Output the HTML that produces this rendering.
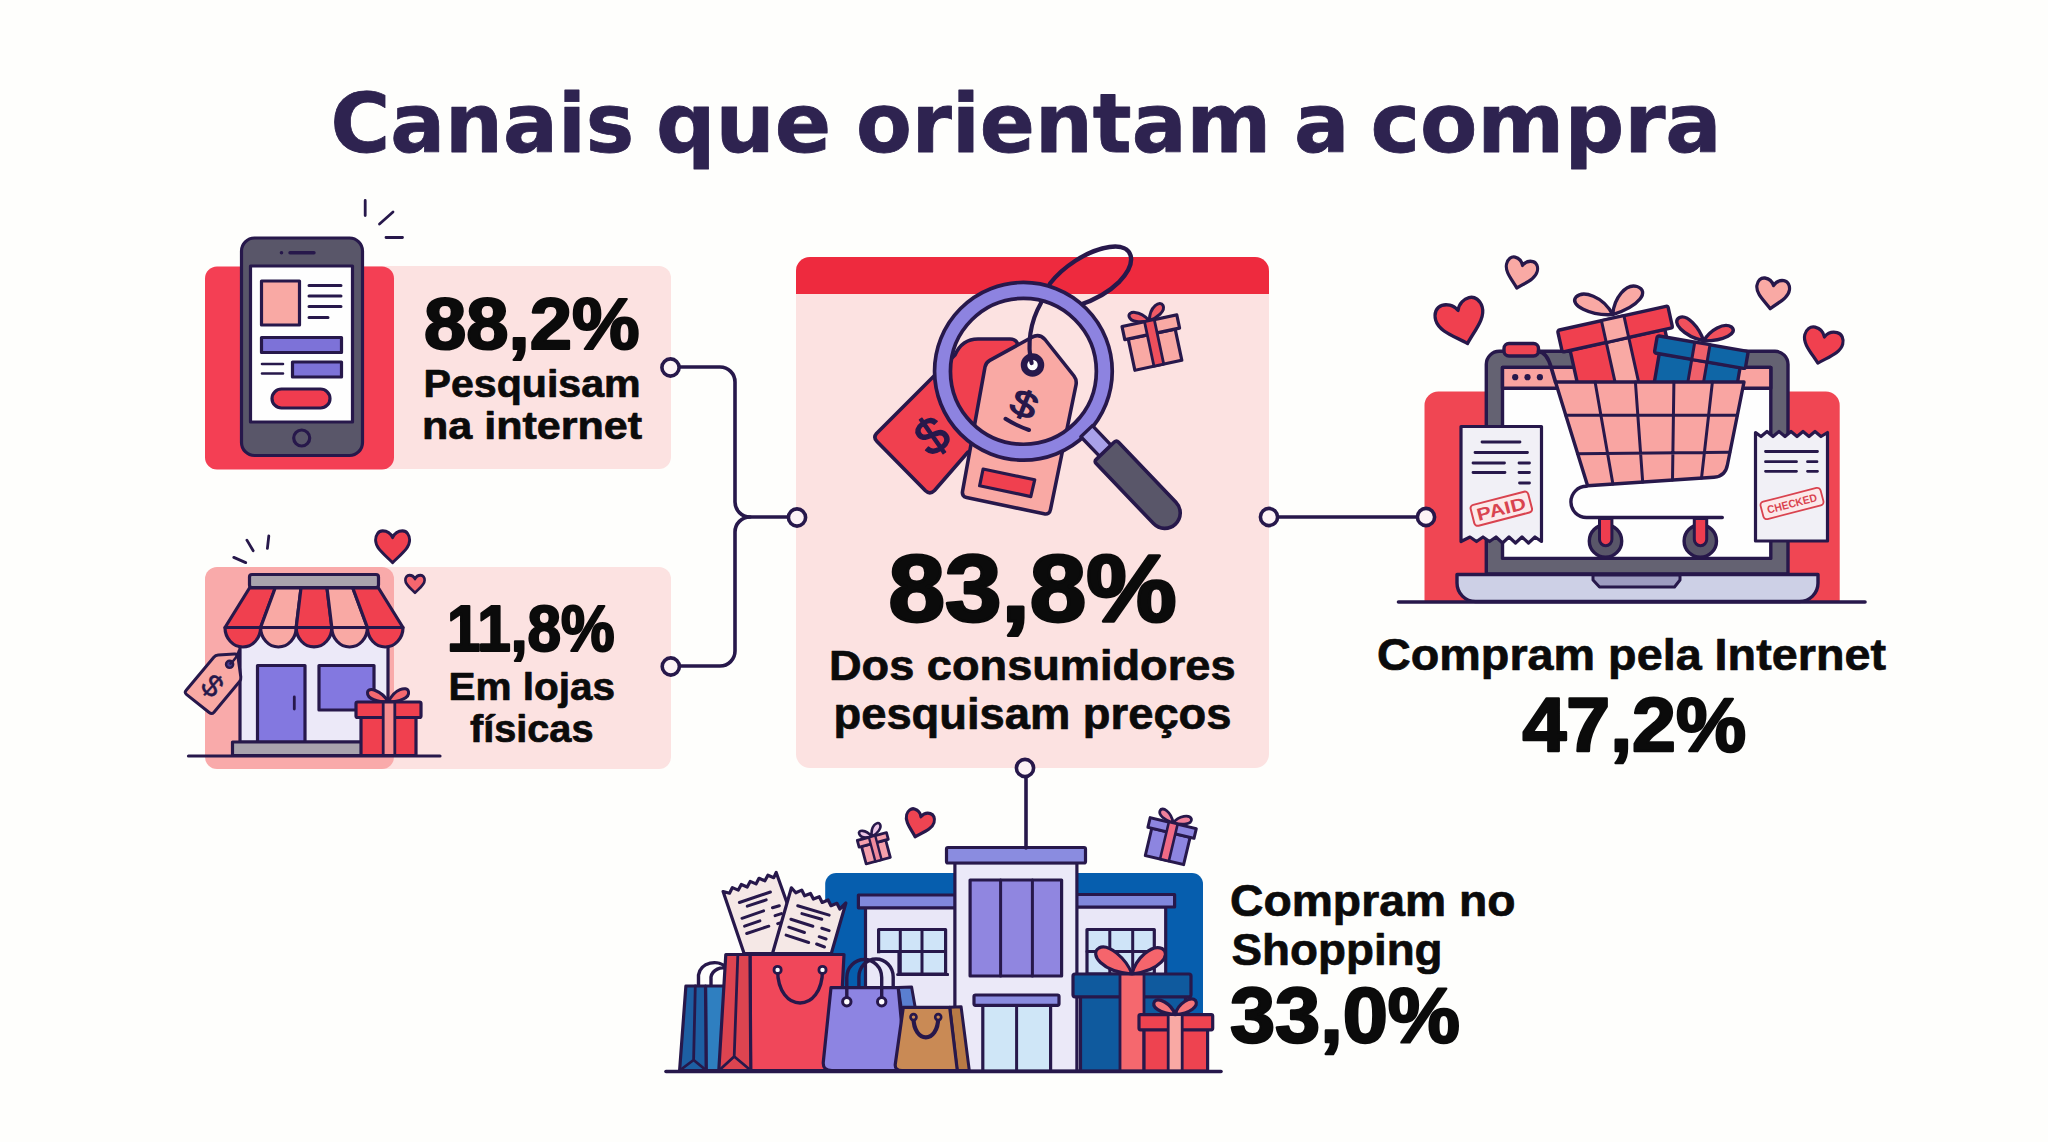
<!DOCTYPE html>
<html lang="pt-BR">
<head>
<meta charset="utf-8">
<title>Canais que orientam a compra</title>
<style>
html,body{margin:0;padding:0;background:#fefefc;}
body{width:2048px;height:1142px;overflow:hidden;position:relative;font-family:"Liberation Sans","DejaVu Sans",sans-serif;}
svg{position:absolute;left:0;top:0;display:block}
text{font-family:"Liberation Sans","DejaVu Sans",sans-serif;font-weight:700;stroke-linejoin:round}
.tt{font-family:"DejaVu Sans","Liberation Sans",sans-serif;fill:#2e2350;stroke:#2e2350;stroke-width:.8px}
.tk{fill:#0b0b0b;stroke:#0b0b0b}
.k{stroke:#27184b;stroke-linecap:round;stroke-linejoin:round}
</style>
</head>
<body>
<svg width="2048" height="1142" viewBox="0 0 2048 1142">
<rect width="2048" height="1142" fill="#fefefc"/>
<!-- CARDS -->
<g id="cards">
<rect x="300" y="266" width="371" height="203" rx="12" fill="#fce2e1"/>
<rect x="205" y="266.5" width="189" height="203" rx="12" fill="#f43f54"/>
<rect x="300" y="567" width="371" height="202" rx="12" fill="#fce2e1"/>
<rect x="205" y="567" width="189" height="202" rx="12" fill="#f9aaaa"/>
<rect x="796" y="257" width="473" height="511" rx="14" fill="#fce2e1"/>
<path d="M796 294V271a14 14 0 0 1 14-14H1255a14 14 0 0 1 14 14V294Z" fill="#ee2a3e"/>
</g>
<!-- PHONE -->
<g id="phone" class="k" stroke-width="3.2" fill="none">
<rect x="241.5" y="238" width="121" height="217.5" rx="13" fill="#595669"/>
<rect x="250.5" y="266" width="102" height="156" fill="#fefefe"/>
<path d="M290 252.7H314" stroke-width="3.4"/>
<circle cx="281.5" cy="252.7" r="1.2" fill="#27184b" stroke-width="1.2"/>
<rect x="261.5" y="281" width="38" height="44" fill="#f9a9a4"/>
<path d="M309 285.5H341M309 296H341M309 306.5H341M309 317.5H328" stroke-width="3"/>
<rect x="261.5" y="337.5" width="80" height="15" fill="#7d72d8"/>
<path d="M262 364H283M262 373.5H283" stroke-width="2.6"/>
<rect x="292.5" y="362" width="49" height="15" fill="#7d72d8"/>
<rect x="272" y="389" width="58" height="19" rx="9.5" fill="#f03c4f"/>
<circle cx="301.7" cy="438" r="8"/>
<path d="M365.2 200.5V215.5M379.5 224 393 212M386 237.5H402.5" stroke-width="2.8"/>
</g>
<!-- STORE -->
<g id="store" class="k" stroke-width="3.2" fill="none">
<!-- body -->
<rect x="240" y="620" width="148" height="122" fill="#ece9f8"/>
<rect x="257.5" y="665.5" width="47.5" height="76.5" fill="#8378e0"/>
<path d="M294.3 697V709" stroke-width="2.8"/>
<rect x="319" y="665.5" width="55" height="44.5" fill="#8378e0"/>
<rect x="232.5" y="742" width="140" height="13.5" fill="#a9a3ad"/>
<!-- roof bar -->
<rect x="249.5" y="574.5" width="129" height="13" rx="2.5" fill="#a9a3ad"/>
<!-- awning -->
<path d="M249.5 588H275.2L260.6 627.5H225Z" fill="#f0404f"/>
<path d="M275.2 588H301L296.2 627.5H260.6Z" fill="#f9a9a4"/>
<path d="M301 588H327L331.8 627.5H296.2Z" fill="#f0404f"/>
<path d="M327 588H352.8L367.4 627.5H331.8Z" fill="#f9a9a4"/>
<path d="M352.8 588H378.5L403 627.5H367.4Z" fill="#f0404f"/>
<path d="M225 627.5H260.6A17.8 19.5 0 0 1 225 627.5Z" fill="#f0404f"/>
<path d="M260.6 627.5H296.2A17.8 19.5 0 0 1 260.6 627.5Z" fill="#f9a9a4"/>
<path d="M296.2 627.5H331.8A17.8 19.5 0 0 1 296.2 627.5Z" fill="#f0404f"/>
<path d="M331.8 627.5H367.4A17.8 19.5 0 0 1 331.8 627.5Z" fill="#f9a9a4"/>
<path d="M367.4 627.5H403A17.8 19.5 0 0 1 367.4 627.5Z" fill="#f0404f"/>
<!-- tag -->
<path d="M186 690.5 213.8 657.2Q215.5 655.1 218.2 654.9L234.5 654.1Q237.6 653.9 238 657L240.8 677Q241.2 679.7 239.4 681.8L214 712.2Q211.8 714.6 209.2 712.5L186.4 694.3Q184.2 692.5 186 690.5Z" fill="#f9a9a4" stroke-width="3"/>
<circle cx="229.6" cy="664.3" r="3.6" fill="#4a3d8f" stroke-width="2.4"/>
<path d="M239 650.5Q237 658 230.5 663.5" stroke-width="2.6"/>
<text x="211.8" y="686.4" font-size="31" text-anchor="middle" transform="rotate(42 211.8 686.4)" dy="9.5" fill="#27184b" stroke="#27184b" stroke-width=".4" style="font-weight:400">$</text>
<!-- gift -->
<path d="M388.5 702C381 690 368 686.5 367.5 692.5 367 699 378 702 388.5 702ZM388.5 702C394 689 407 685.5 408.5 691.5 410 698 399 702 388.5 702Z" fill="#f5696f" stroke-width="3"/>
<rect x="361" y="717" width="55" height="38.5" fill="#f0404f"/>
<rect x="356" y="702" width="65" height="15.5" rx="1.5" fill="#f0404f"/>
<rect x="383.2" y="702" width="11.6" height="53.5" fill="#f98e90" stroke-width="2.8"/>
<!-- ground -->
<path d="M188.5 756H440" stroke-width="3.2"/>
<!-- sparks -->
<path d="M233.8 557.4 245.7 562.6M246.9 540.1 253.2 550.7M268.8 536 267.4 548.4" stroke-width="2.8"/>
<!-- hearts -->
<path d="M0 4C-4-4-12-7-18-7-26-7-31 0-31 8-31 22-14 32 0 45 14 32 31 22 31 8 31 0 26-7 18-7 12-7 4-4 0 4Z" transform="translate(392.6 535.2) scale(.55 .61)" fill="#f0404f" stroke-width="5.2"/>
<path d="M0 4C-4-4-12-7-18-7-26-7-31 0-31 8-31 22-14 32 0 45 14 32 31 22 31 8 31 0 26-7 18-7 12-7 4-4 0 4Z" transform="translate(415 577.6) scale(.31 .335)" fill="#f5666e" stroke-width="8.5"/>
</g>
<!-- MAGNIFIER + TAGS -->
<g id="magnifier" class="k" stroke-width="3.6" fill="none">
<!-- red tag -->
<path d="M876.5 433.5 955 355Q962 339 978 339H1010Q1017 339 1018 346L1030 420 968 452 934.5 490.5Q930 495 925.5 490.8L877 441.5Q873 437.5 876.5 433.5Z" fill="#f0404f"/>
<text x="933" y="437" font-size="51" text-anchor="middle" transform="rotate(-35 933 437)" dy="16" fill="#27184b" stroke="#27184b" stroke-width="1.4" style="font-weight:400">$</text>
<!-- pink tag -->
<path d="M962.6 491 985 367Q985.8 362.5 989.8 360.3L1031.5 337.5Q1039 333 1045 339.5L1074 376Q1077 380 1076 385L1050.5 509.5Q1049.5 515 1044 513.8L966.5 497.5Q961.5 496.5 962.6 491Z" fill="#f9a9a4"/>
<path d="M983.1 469 1034.7 479.8 1030.8 496.6 979.6 485.8Z" fill="#f0404f" stroke-width="3.2"/>
<text x="0" y="0" font-size="36" text-anchor="middle" transform="translate(1023.8 405) rotate(22) scale(1.3 1)" dy="11.5" fill="#27184b" stroke="#27184b" stroke-width="1.2" style="font-weight:400">$</text>
<path d="M1005.5 418.8Q1016 425.5 1029 430" stroke-width="4"/>
<circle cx="1032.5" cy="365" r="8.5" fill="#fefefe" stroke-width="6.5"/>
<!-- string -->
<path d="M1031.6 363C1027 345 1030 322 1041 303" stroke-width="4.2"/>
<path d="M1050 283.5C1062 268 1086 250.500 1109.500 247 1134 243.500 1138 262 1119.500 281.600 1107 294 1092 301 1078 305.500" stroke-width="4.4"/>
<!-- ring -->
<circle cx="1023.4" cy="371.3" r="80.9" stroke-width="19.6"/>
<circle cx="1023.4" cy="371.3" r="80.9" stroke="#8d83e0" stroke-width="12.2"/>
<!-- neck + handle -->
<g transform="translate(1105.3 450.7) rotate(46.3)">
<rect x="-27" y="-8" width="30" height="16" fill="#a9a1ea" stroke-width="3.4"/>
<path d="M3 -15.5H86A15.5 15.5 0 0 1 86 15.5H3Q0 15.5 0 12.5V-12.5Q0 -15.5 3 -15.5Z" fill="#595669"/>
</g>
<!-- small gift -->
<g transform="translate(1122 326.5) rotate(-12)">
<path d="M28 0C20.5-13 8.5-14 9-8 9.500-2 19.500 0 28 0ZM28 0C31-14 43-18 44.500-12 46-6 36-1 28 0Z" fill="#ee5a66" stroke-width="3"/>
<rect x="3.5" y="13.5" width="48" height="32" fill="#f9a9a4" stroke-width="3.2"/>
<rect x="0" y="0" width="56" height="13.5" fill="#f9a9a4" stroke-width="3.2"/>
<rect x="23" y="0" width="10" height="45.5" fill="#ee4f5c" stroke-width="2.8"/>
</g>
</g>
<!-- LAPTOP + CART -->
<g id="laptop" class="k" stroke-width="3.4" fill="none">
<path d="M1424.5 601.5V405.500a14 14 0 0 1 14-14H1825.700a14 14 0 0 1 14 14V601.500Z" fill="#f04653" stroke="none"/>
<!-- bezel -->
<path d="M1486.3 574V364.300a13 13 0 0 1 13-13H1775a13 13 0 0 1 13 13V574Z" fill="#646272"/>
<rect x="1502.5" y="367.4" width="268.3" height="191" fill="#fefefe"/>
<rect x="1502.5" y="367.4" width="268.3" height="20.8" fill="#f9a3a0"/>
<g fill="#27184b" stroke="none"><circle cx="1515.2" cy="377.2" r="3.1"/><circle cx="1527.5" cy="377.2" r="3.1"/><circle cx="1539.9" cy="377.2" r="3.1"/></g>
<!-- base -->
<path d="M1457 574.5H1818V583a18.500 18.500 0 0 1-18.500 18.500H1475.500A18.500 18.500 0 0 1 1457 583Z" fill="#cdd0e6"/>
<path d="M1593 575H1680V580L1674.500 587H1599.500L1593 580Z" fill="#9d9cc0" stroke-width="3"/>
<path d="M1398.500 602H1865" stroke-width="3.6"/>
<!-- left receipt -->
<path d="M1461 426.500H1541.500V541.500L1535 537 1528.500 543 1522 537 1515.500 543 1509 537 1502.500 543 1496 537 1489.500 541.500 1483 537 1476.500 541.500 1470 537 1461 541.500Z" fill="#f1f0f6" stroke-width="3.2"/>
<path d="M1482 442H1520M1475 452.500H1527.500M1473 463H1504.500M1519 463H1529.500M1473 472.500H1505M1519 472.500H1529.500M1519.500 483H1529.500" stroke-width="2.8"/>
<g transform="rotate(-14.5 1501 508.500)">
<rect x="1471.500" y="498" width="59.500" height="21.500" rx="3.500" fill="#fbe9ea" stroke="#d9434f" stroke-width="2"/>
<text x="1501.200" y="515" font-size="17.500" text-anchor="middle" textLength="50" lengthAdjust="spacingAndGlyphs" fill="#d9434f" stroke="none">PAID</text>
</g>
<!-- right receipt -->
<path d="M1755.500 541V432.500L1761 436.500 1767 431.500 1773 436.500 1779 431.500 1785 436.500 1791 431.500 1797 436.500 1803 431.500 1809 436.500 1815 431.500 1821 436.500 1827.500 432.500V541Z" fill="#f1f0f6" stroke-width="3.200"/>
<path d="M1765.500 451.500H1817.500M1765.500 461.700H1796.500M1807.500 461.700H1817M1765.500 471.300H1796.500M1807.500 471.300H1817.500" stroke-width="2.800"/>
<g transform="rotate(-14.500 1792 503.500)">
<rect x="1761" y="494.500" width="62" height="18" rx="3.500" fill="#fbe9ea" stroke="#d9434f" stroke-width="1.800"/>
<text x="1792" y="507.500" font-size="11" text-anchor="middle" textLength="51" lengthAdjust="spacingAndGlyphs" fill="#d9434f" stroke="none">CHECKED</text>
</g>
<!-- red handle -->
<rect x="1504" y="343.500" width="34.500" height="12.500" rx="5" fill="#ee4552"/>
</g>
<!-- CART -->
<g id="cart" class="k" stroke-width="3.4" fill="none">
<!-- red gift -->
<g transform="translate(1557.5 330.4) rotate(-12.5)">
<rect x="8" y="22" width="97" height="75" fill="#f0404f"/>
<rect x="45" y="22" width="23" height="75" fill="#f9a9a4" stroke-width="3"/>
<rect x="0" y="0" width="113" height="22.3" rx="2" fill="#f0404f"/>
<rect x="45" y="0" width="23" height="22.3" fill="#f9a9a4" stroke-width="3"/>
</g>
<path d="M1612.7 314.6C1603 296 1583 290 1576 297 1569 305 1590 316 1612.700 314.600ZM1612.700 314.600C1614 298 1626 283 1637 286.500 1650 291 1640 306 1612.700 314.600Z" fill="#f9a9a4"/>
<!-- blue gift -->
<g transform="translate(1657.3 335.7) rotate(9.8)">
<rect x="5" y="17" width="82" height="60" fill="#0f66a6"/>
<rect x="38" y="17" width="15.500" height="60" fill="#f0606a" stroke-width="3"/>
<rect x="0" y="0" width="92.300" height="17.500" rx="2" fill="#0f66a6"/>
<rect x="38" y="0" width="15.500" height="17.500" fill="#f0606a" stroke-width="3"/>
</g>
<path d="M1703.700 340.900C1699 327 1687 314 1679.500 317.500 1671 322 1683 336 1703.700 340.900ZM1703.700 340.900C1710 330 1724 322 1731.500 327 1738.500 333 1724 341 1703.700 340.900Z" fill="#f0505c"/>
<!-- basket -->
<path d="M1555.500 382H1744L1727.500 464.500Q1725.500 476.400 1714 477.200L1587.600 485.800Z" fill="#f9a5a2"/>
<path d="M1595.100 382 1612.900 484.100M1635.400 382 1642.700 482.100M1673.900 382 1672.500 480M1712.400 382 1701.500 478.100M1565.800 415.300H1737.300M1577.400 453.800 1729.800 452.300" stroke-width="3"/>
<path d="M1538.500 351.300C1546 352 1549 360 1551 367L1555.500 382" stroke-width="3.800"/>
<!-- lower frame -->
<path d="M1722.300 517.500H1586.500A15.600 15.600 0 0 1 1586.500 486.300"/>
<!-- wheels -->
<circle cx="1605.500" cy="540.900" r="16.200" fill="#595669"/>
<circle cx="1700.300" cy="540.900" r="16.200" fill="#595669"/>
<path d="M1599.500 518.500H1611.900V539.500a6.200 6.200 0 0 1-12.400 0Z" fill="#ee3d4f" stroke-width="3"/>
<path d="M1694.300 518.500H1706.700V539.500a6.200 6.200 0 0 1-12.400 0Z" fill="#ee3d4f" stroke-width="3"/>
<!-- hearts -->
<path d="M0 4C-4-4-12-7-18-7-26-7-31 0-31 8-31 22-14 32 0 45 14 32 31 22 31 8 31 0 26-7 18-7 12-7 4-4 0 4Z" transform="translate(1461.5 322.500) rotate(-16) scale(.78 .84) translate(0 -19)" fill="#f0404f" stroke-width="4.200"/>
<path d="M0 4C-4-4-12-7-18-7-26-7-31 0-31 8-31 22-14 32 0 45 14 32 31 22 31 8 31 0 26-7 18-7 12-7 4-4 0 4Z" transform="translate(1520.400 273.700) rotate(14) scale(.51 .57) translate(0 -19)" fill="#f9a9a4" stroke-width="6"/>
<path d="M0 4C-4-4-12-7-18-7-26-7-31 0-31 8-31 22-14 32 0 45 14 32 31 22 31 8 31 0 26-7 18-7 12-7 4-4 0 4Z" transform="translate(1772.300 294) rotate(8) scale(.53 .57) translate(0 -19)" fill="#f9a9a4" stroke-width="6"/>
<path d="M0 4C-4-4-12-7-18-7-26-7-31 0-31 8-31 22-14 32 0 45 14 32 31 22 31 8 31 0 26-7 18-7 12-7 4-4 0 4Z" transform="translate(1822 346.500) rotate(14) scale(.63 .66) translate(0 -19)" fill="#f0404f" stroke-width="5"/>
</g>
<!-- MALL -->
<g id="mall" class="k" stroke-width="3.2" fill="none">
<path d="M825.2 1071V884a11 11 0 0 1 11-11H1192a11 11 0 0 1 11 11V1071Z" fill="#065eae" stroke="none"/>
<!-- wings -->
<rect x="865.5" y="907.500" width="90" height="163.500" fill="#e9e7f7"/>
<rect x="858.400" y="895" width="97" height="12.800" fill="#8088dc"/>
<rect x="1076" y="907" width="89.700" height="164" fill="#e9e7f7"/>
<rect x="1076" y="894.500" width="98.600" height="12.500" fill="#8088dc"/>
<rect x="878.600" y="929.500" width="67" height="44.500" fill="#cfe4f8"/>
<path d="M900.300 929.500V974M922 929.500V974M878.600 951.600H945.600M876.500 974.500H947.500" stroke-width="3"/>
<rect x="1087" y="929.500" width="67.300" height="44.500" fill="#cfe4f8"/>
<path d="M1109.800 929.500V974M1132.700 929.500V974M1087 951.600H1154.300" stroke-width="3"/>
<!-- tower -->
<rect x="954.900" y="862.700" width="122" height="208.300" fill="#ebe9f8"/>
<rect x="946.500" y="847.500" width="139" height="15.500" rx="1.500" fill="#8a8ce0"/>
<rect x="970.100" y="880" width="91.500" height="96" fill="#9086e0"/>
<path d="M1000.600 880V976M1032.400 880V976" stroke-width="3"/>
<rect x="982.800" y="1005" width="67.800" height="66" fill="#cfe6f7"/>
<path d="M1016.600 1005V1071" stroke-width="3"/>
<rect x="974" y="995" width="85" height="10.300" rx="1.500" fill="#8a8ce0"/>
<!-- big blue gift -->
<rect x="1080.500" y="996.500" width="105" height="74.500" fill="#0f5a9e"/>
<rect x="1073" y="974" width="118" height="22.800" rx="2" fill="#0f5a9e"/>
<rect x="1120" y="974" width="24" height="97" fill="#f5686e" stroke-width="2.800"/>
<path d="M1132 974C1126 958 1108 943 1099 948 1089 954 1102 972 1132 974ZM1132 974C1136 958 1152 944 1162 948.500 1172 954 1160 971 1132 974Z" fill="#f5656c"/>
<!-- small red gift -->
<rect x="1144" y="1029.500" width="63.600" height="41.500" fill="#ee4350"/>
<rect x="1139" y="1014.600" width="73.700" height="15.200" rx="1.500" fill="#ee4350"/>
<rect x="1168.200" y="1014.600" width="14" height="56.400" fill="#f9a9a4" stroke-width="2.800"/>
<path d="M1175.200 1014.600C1171 1003 1158 997 1154.500 1001.500 1151 1007 1160 1013.500 1175.200 1014.600ZM1175.200 1014.600C1178 1003 1191 996 1195.500 1000.500 1199.500 1006 1190 1013.500 1175.200 1014.600Z" fill="#f5767a"/>
</g>
<!-- BAGS -->
<g id="bags" class="k" stroke-width="3.2" fill="none">
<rect x="875" y="953.3" width="23.600" height="24" fill="#e9e7f7" stroke="none"/>
<path d="M897.600 974.500H947.500M898.900 953V974" stroke-width="3"/>
<!-- blue bag -->
<path d="M698.500 986V975A16 14 0 0 1 727 968M711 986V977A12 11 0 0 1 728 969" stroke-width="3.400"/>
<path d="M705.500 986H728V1070.500H706Z" fill="#2f7fc0"/>
<path d="M685.900 986H705.500L706.200 1070.500H679.600Z" fill="#1d5fa3"/>
<path d="M695.300 986 693.600 1060M680.300 1070 693.600 1060 705.800 1070" stroke-width="2.800"/>
<!-- receipts -->
<path d="M744.100 953.500 723.100 891.500 729.500 893.200 732.400 887.600 738.300 890.100 741.300 884.500 747.200 887 750.200 881.400 756 883.900 759 878.300 764.900 880.800 767.900 875.200 773.800 877.700 776.200 872.500 805 953.500Z" fill="#f5e8e6"/>
<path d="M739.400 902.500 770.400 892M747.300 906.200 766.200 899.900M742 918.300 763.600 910.900M744.600 926.200 759.900 920.900M746.700 933.500 768.800 926.200M772.500 907.800 779.300 905.700M775.100 915.700 781.400 913.600M777.700 923.600 780.900 922.700" stroke-width="3"/>
<path d="M772.500 953.500 791.400 887.800 795.800 892.800 801.700 890.100 804.600 895.800 810.500 893.400 813.400 899.100 819.300 896.700 822.200 902.400 828.100 900 831 905.700 836.900 903.300 839.800 909 845.900 903 831.300 953.500Z" fill="#f5e8e6"/>
<path d="M797.700 905.700 829.200 915.100M801.900 913.600 821.800 919.300M790.900 919.300 812.900 926.200M788.800 927.200 804.500 932.500M786.100 935.100 808.700 942.500M821.800 928.300 829.200 930.600M819.200 936.700 826.100 939M816.600 944 824.500 947" stroke-width="3"/>
<!-- red bag -->
<path d="M750 954.500H844L838 1070.500H750.500Z" fill="#f0475a"/>
<path d="M725.800 954.500H750L750.800 1070.500H718.800Z" fill="#dc4450"/>
<path d="M737.800 955 734.200 1056.500M719.500 1070 734.200 1056.500 750.300 1070" stroke-width="2.800"/>
<path d="M777.600 970C777.600 1014 822.500 1014 822.500 970" stroke-width="3.400"/>
<circle cx="777.600" cy="969.900" r="3.600" fill="#fefefe" stroke-width="2.800"/>
<circle cx="822.500" cy="969.900" r="3.600" fill="#fefefe" stroke-width="2.800"/>
<!-- purple bag -->
<path d="M858.900 988V977A17.150 18 0 0 1 893.200 977V988" stroke-width="3.400"/>
<path d="M898.200 987.600 911.600 987 916 1012 903 1020Z" fill="#5a7fd0" stroke-width="3"/>
<path d="M831 987.600H898.200L906 1070.500H832Q822.500 1070.500 823.300 1062Z" fill="#8d84e2"/>
<path d="M846.800 1001.800V977.500A17.450 18 0 0 1 881.700 977.500V1001.800" stroke-width="3.400"/>
<circle cx="846.800" cy="1001.800" r="4.200" fill="#fefefe" stroke-width="3"/>
<circle cx="881.700" cy="1001.800" r="4.200" fill="#fefefe" stroke-width="3"/>
<!-- brown bag -->
<path d="M949.700 1007.300 961.100 1006.700 969.300 1070.500H957Z" fill="#b87a45" stroke-width="3"/>
<path d="M903.300 1007.300H949.700L957.300 1070.500H902Q894.500 1070.500 895.300 1064Z" fill="#c98a55"/>
<path d="M913.500 1017.500C913.500 1044 938.200 1044 938.200 1017.500" stroke-width="4.200"/>
<circle cx="913.500" cy="1017.100" r="3" fill="#c98a55" stroke-width="2.600"/>
<circle cx="938.200" cy="1017.100" r="3" fill="#c98a55" stroke-width="2.600"/>
<!-- ground -->
<path d="M666 1071.500H1221" stroke-width="3.600"/>
<!-- floating pink gift -->
<g transform="translate(857.300 840.400) rotate(-15)">
<path d="M15 0C11-9 3-10 3.500-6 4-1.500 10 0 15 0ZM15 0C16-10 24-14 26-10 27.500-6 21-1 15 0Z" fill="#ecc6e6" stroke-width="2.600"/>
<rect x="2.500" y="7" width="25" height="18" fill="#f5a0ac" stroke-width="2.800"/>
<rect x="0" y="0" width="30.200" height="7" fill="#f5a0ac" stroke-width="2.800"/>
<rect x="12" y="0" width="6.500" height="25" fill="#f08a9c" stroke-width="2.400"/>
</g>
<!-- floating heart -->
<path d="M0 4C-4-4-12-7-18-7-26-7-31 0-31 8-31 22-14 32 0 45 14 32 31 22 31 8 31 0 26-7 18-7 12-7 4-4 0 4Z" transform="translate(918.800 824) rotate(16) scale(.46 .51) translate(0 -19)" fill="#ee4452" stroke-width="6.500"/>
<!-- floating purple gift -->
<g transform="translate(1150.200 817.600) rotate(13.400)">
<path d="M23.700 0C19-11 9-14 8-9 7-4 15-1 23.700 0ZM23.700 0C27-9 38-12.500 40.500-8 42.500-3 33-0.500 23.700 0Z" fill="#f0809a" stroke-width="2.800"/>
<rect x="4" y="10" width="39.400" height="28" fill="#8d85e0" stroke-width="3"/>
<rect x="0" y="0" width="47.400" height="10" fill="#8d85e0" stroke-width="3"/>
<rect x="19.200" y="0" width="9" height="38" fill="#f06a85" stroke-width="2.600"/>
</g>
</g>
<!-- CONNECTORS -->
<g id="conn" fill="none" stroke="#27184b" stroke-width="3.6" stroke-linecap="round">
<path d="M672 367H720a15 15 0 0 1 15 15V502a15 15 0 0 0 15 15H797"/>
<path d="M672 666H720a15 15 0 0 0 15-15V532a15 15 0 0 1 15-15"/>
<path d="M1269 517H1426"/>
<path d="M1026 768V848"/>
<g fill="#fdf3f6">
<circle cx="670.5" cy="367.5" r="8.6"/>
<circle cx="670.8" cy="666.5" r="8.6"/>
<circle cx="797" cy="517.5" r="8.6"/>
<circle cx="1269" cy="517" r="8.6"/>
<circle cx="1426" cy="517" r="8.6"/>
<circle cx="1025" cy="768" r="8.6"/>
</g>
</g>
<!-- TEXTS -->
<g id="texts">
<text x="330.5" y="152.0" font-size="82" textLength="303.7" lengthAdjust="spacingAndGlyphs" class="tt">Canais</text>
<text x="656.0" y="152.0" font-size="82" textLength="175.3" lengthAdjust="spacingAndGlyphs" class="tt">que</text>
<text x="856.0" y="152.0" font-size="82" textLength="415.2" lengthAdjust="spacingAndGlyphs" class="tt">orientam</text>
<text x="1294.0" y="152.0" font-size="82" textLength="55.5" lengthAdjust="spacingAndGlyphs" class="tt">a</text>
<text x="1370.5" y="152.0" font-size="82" textLength="351.2" lengthAdjust="spacingAndGlyphs" class="tt">compra</text>
<text x="424.0" y="349.3" font-size="71.5" textLength="215.5" lengthAdjust="spacingAndGlyphs" class="tk" stroke-width="2.2">88,2%</text>
<text x="423.5" y="396.6" font-size="38" textLength="217.1" lengthAdjust="spacingAndGlyphs" class="tk" stroke-width="0.7">Pesquisam</text>
<text x="422.0" y="438.8" font-size="38" textLength="220.0" lengthAdjust="spacingAndGlyphs" class="tk" stroke-width="0.7">na internet</text>
<text x="447.0" y="651.0" font-size="64" textLength="167.5" lengthAdjust="spacingAndGlyphs" class="tk" stroke-width="2.2">11,8%</text>
<text x="448.5" y="699.9" font-size="38" textLength="166.6" lengthAdjust="spacingAndGlyphs" class="tk" stroke-width="0.7">Em lojas</text>
<text x="470.0" y="742.4" font-size="38" textLength="123.5" lengthAdjust="spacingAndGlyphs" class="tk" stroke-width="0.7">físicas</text>
<text x="888.5" y="620.8" font-size="93.8" textLength="288.0" lengthAdjust="spacingAndGlyphs" class="tk" stroke-width="3">83,8%</text>
<text x="829.0" y="679.7" font-size="42.5" textLength="406.5" lengthAdjust="spacingAndGlyphs" class="tk" stroke-width="0.7">Dos consumidores</text>
<text x="833.5" y="729.4" font-size="44.5" textLength="398.0" lengthAdjust="spacingAndGlyphs" class="tk" stroke-width="0.7">pesquisam preços</text>
<text x="1377.0" y="669.8" font-size="45" textLength="509.0" lengthAdjust="spacingAndGlyphs" class="tk" stroke-width="0.7">Compram pela Internet</text>
<text x="1522.5" y="751.2" font-size="75.4" textLength="223.5" lengthAdjust="spacingAndGlyphs" class="tk" stroke-width="2.4">47,2%</text>
<text x="1230.0" y="915.8" font-size="45" textLength="285.5" lengthAdjust="spacingAndGlyphs" class="tk" stroke-width="0.7">Compram no</text>
<text x="1231.5" y="964.9" font-size="45" textLength="211.1" lengthAdjust="spacingAndGlyphs" class="tk" stroke-width="0.7">Shopping</text>
<text x="1230.0" y="1042.2" font-size="77.8" textLength="230.0" lengthAdjust="spacingAndGlyphs" class="tk" stroke-width="2.4">33,0%</text>
</g>
</svg>
</body>
</html>
